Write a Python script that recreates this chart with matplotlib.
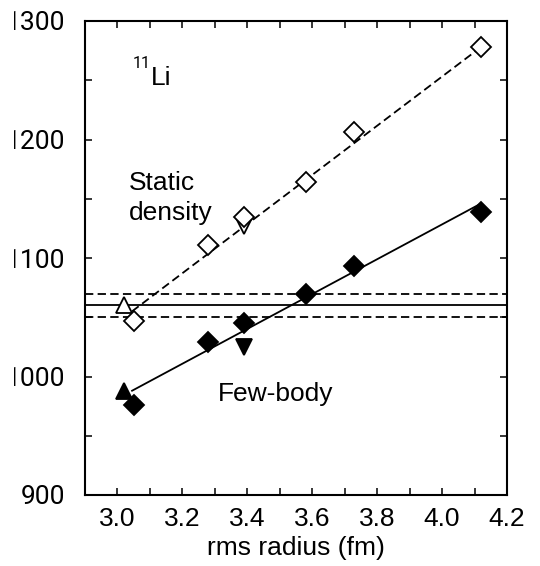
import matplotlib
matplotlib.use("Agg")
import numpy as np
import matplotlib.pyplot as plt
from matplotlib.patches import Rectangle

plt.rcParams['font.family'] = ['Liberation Sans', 'DejaVu Sans']
DIGIT_FONT = ['Roboto', 'Liberation Sans', 'DejaVu Sans']  # "1" without foot

# ---- data ----
radius_calc = [3.05, 3.28, 3.39, 3.58, 3.73, 4.12]
static_density = [1047, 1111, 1135, 1164, 1206, 1278]
few_body = [976, 1029, 1045, 1070, 1093, 1139]

tri_up_x = [3.02]
static_tri_up = [1060]
few_tri_up = [988]

tri_down_x = [3.39]
static_tri_down = [1127]
few_tri_down = [1025]

fit_x = [3.045, 4.12]
static_fit = [1055, 1278]
few_fit = [988, 1146]

exp_value = 1060
exp_err = 10

xticks = [3.0, 3.2, 3.4, 3.6, 3.8, 4.0, 4.2]
xticklabels = ['3.0', '3.2', '3.4', '3.6', '3.8', '4.0', '4.2']
yticks = [900, 1000, 1100, 1200, 1300]
yticklabels = ['900', '1000', '1100', '1200', '1300']

# ---- figure ----
W, H = 540, 566
fig = plt.figure(figsize=(W / 100, H / 100), dpi=100)
ax = fig.add_axes([85 / W, (H - 495) / H, 422 / W, 474 / H])

ax.set_xlim(2.9, 4.2)
ax.set_ylim(900, 1300)

lw = 1.3
dash = (4.6, 2.4)

# experimental band
ax.axhline(exp_value, color='black', lw=lw)
ax.axhline(exp_value - exp_err, color='black', lw=lw, ls=(0, dash))
ax.axhline(exp_value + exp_err, color='black', lw=lw, ls=(0, dash))

# fits
ax.plot(fit_x, static_fit, color='black', lw=lw, ls=(0, dash))
ax.plot(fit_x, few_fit, color='black', lw=lw)

ms_d = 10.5
ms_t = 11
ax.plot(radius_calc, static_density, ls='none', marker='D', ms=ms_d,
        mfc='white', mec='black', mew=1.3, zorder=5)
ax.plot(radius_calc, few_body, ls='none', marker='D', ms=ms_d,
        mfc='black', mec='black', mew=1.3, zorder=5)
ax.plot(tri_up_x, static_tri_up, ls='none', marker='^', ms=ms_t,
        mfc='white', mec='black', mew=1.3, zorder=4)
ax.plot(tri_up_x, few_tri_up, ls='none', marker='^', ms=ms_t,
        mfc='black', mec='black', mew=1.3, zorder=4)
ax.plot(tri_down_x, static_tri_down, ls='none', marker='v', ms=ms_t,
        mfc='white', mec='black', mew=1.3, zorder=4)
ax.plot(tri_down_x, few_tri_down, ls='none', marker='v', ms=ms_t,
        mfc='black', mec='black', mew=1.3, zorder=4)

# texts
fs = 19
ax.text(3.103, 1246, 'Li', fontsize=fs, ha='left', va='baseline')
ax.text(3.046, 1260, '11', fontsize=11.5, ha='left', va='baseline',
        family=DIGIT_FONT)
ax.text(3.036, 1157, 'Static', fontsize=fs, ha='left', va='baseline')
ax.text(3.036, 1132, 'density', fontsize=fs, ha='left', va='baseline')
ax.text(3.31, 979, 'Few-body', fontsize=fs, ha='left', va='baseline')

# ticks
ax.set_xticks(xticks)
ax.set_xticklabels(xticklabels)
ax.set_xticks([3.0 + 0.1 * i for i in range(13)], minor=True)
ax.set_yticks(yticks)
ax.set_yticklabels(yticklabels, family=DIGIT_FONT)
ax.set_yticks([900 + 50 * i for i in range(9)], minor=True)
ax.tick_params(which='both', direction='in', top=True, right=True,
               length=5, width=1.1, labelsize=fs)
ax.tick_params(axis='x', which='major', pad=9)
ax.tick_params(axis='y', which='major', pad=14)
for s in ax.spines.values():
    s.set_linewidth(1.5)

ax.set_xlabel('rms radius (fm)', fontsize=fs, labelpad=3)

# The source image is cropped at the left: only the stem of the leading "1"
# of the y tick labels is visible. Locate that stem in the rendered pixels
# and mask everything left of it.
fig.canvas.draw()
renderer = fig.canvas.get_renderer()
buf = np.asarray(fig.canvas.buffer_rgba())
lab = [t for t in ax.get_yticklabels() if t.get_text() == '1300'][0]
bb = lab.get_window_extent(renderer)
r0 = max(int(H - bb.y1) - 1, 0)
r1 = min(int(H - bb.y0) + 1, H)
c0 = max(int(bb.x0) - 3, 0)
em_px = fs * fig.dpi / 72.0
c1 = int(bb.x0 + 0.5 * em_px)
region = buf[r0:r1, c0:c1, 0] < 160
counts = region.sum(axis=0)
need = 0.8 * 0.7 * em_px
mask_x = None
for j, c in enumerate(counts):
    if c >= need:
        mask_x = c0 + j
        break
if mask_x is None:
    mask_x = bb.x0 + 0.2 * em_px
mask_x = int(mask_x) + 0.6
fig.patches.append(Rectangle((0, 0), mask_x / W, 1, transform=fig.transFigure,
                             facecolor='white', edgecolor='none', zorder=10))

fig.savefig('out.png', dpi=100)
